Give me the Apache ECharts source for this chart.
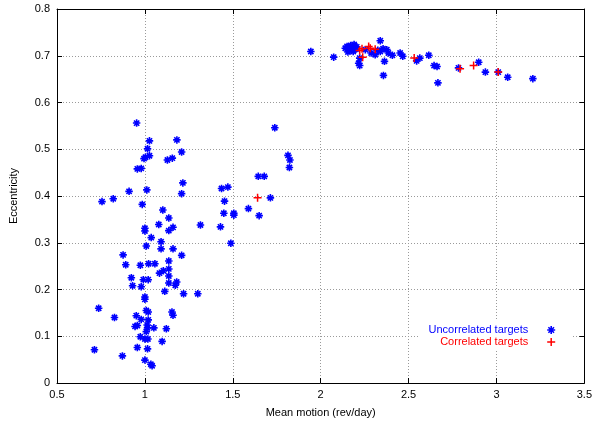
<!DOCTYPE html>
<html><head><meta charset="utf-8">
<script src="https://cdn.jsdelivr.net/npm/echarts@6/dist/echarts.min.js"></script>
<style>html,body{margin:0;padding:0;background:#fff}#c{width:595px;height:423px}</style>
</head><body><div id="c"></div>
<script>
// Uncorrelated targets
const uncorrX = [0.953,1.026,1.182,1.015,1.209,0.995,1.003,1.026,1.128,1.156,0.957,0.979,1.216,0.910,1.011,1.209,0.820,0.756,0.985,1.102,1.136,1.079,1.160,1.136,1.000,1.000,1.036,1.092,1.316,1.436,1.430,1.008,1.092,1.160,0.876,1.209,0.891,0.974,1.021,1.057,1.136,0.923,0.991,1.019,1.083,1.105,1.136,1.136,1.136,1.181,1.173,0.930,0.979,1.113,1.220,1.301,1.000,1.000,0.737,0.827,1.008,1.019,1.154,1.160,0.951,0.979,1.019,1.013,0.944,0.957,1.051,1.015,1.122,1.008,0.974,1.000,1.017,1.098,0.713,0.957,1.015,0.872,1.000,1.034,1.041,1.739,1.814,1.825,1.822,1.645,1.679,1.714,1.472,1.453,1.589,1.449,1.506,1.506,1.650,1.489,
  1.944,2.074,2.140,2.150,2.160,2.170,2.180,2.190,2.200,2.155,2.185,2.205,2.222,2.216,2.222,2.339,2.287,2.339,2.376,2.385,2.408,2.452,2.467,2.363,2.357,2.254,2.310,2.325,2.355,2.546,2.564,2.615,2.645,2.662,2.667,2.784,2.899,2.937,3.010,3.064,3.207];
const uncorrY = [0.556,0.518,0.520,0.501,0.494,0.480,0.483,0.486,0.477,0.481,0.458,0.459,0.428,0.410,0.413,0.405,0.394,0.388,0.382,0.370,0.353,0.339,0.333,0.326,0.331,0.325,0.311,0.302,0.338,0.416,0.334,0.293,0.287,0.287,0.274,0.273,0.253,0.252,0.255,0.255,0.261,0.225,0.221,0.221,0.235,0.240,0.244,0.229,0.214,0.216,0.209,0.208,0.206,0.196,0.191,0.191,0.179,0.184,0.160,0.140,0.155,0.152,0.152,0.145,0.144,0.136,0.135,0.124,0.121,0.123,0.118,0.118,0.116,0.110,0.099,0.094,0.094,0.089,0.071,0.076,0.073,0.058,0.049,0.040,0.037,0.546,0.487,0.477,0.461,0.442,0.442,0.396,0.419,0.389,0.373,0.363,0.363,0.359,0.358,0.299,
  0.709,0.697,0.716,0.720,0.712,0.722,0.717,0.724,0.714,0.708,0.709,0.719,0.695,0.684,0.679,0.732,0.706,0.709,0.713,0.706,0.701,0.706,0.699,0.688,0.658,0.713,0.702,0.712,0.715,0.689,0.695,0.701,0.679,0.677,0.642,0.674,0.686,0.665,0.665,0.654,0.651];
// Correlated targets
const corrX = [1.641,2.222,2.235,2.239,2.273,2.282,2.310,2.532,2.793,2.870,3.010];
const corrY = [0.396,0.711,0.715,0.697,0.720,0.716,0.714,0.695,0.672,0.679,0.665];
const xTicks = [0.5,1,1.5,2,2.5,3,3.5];
const yTicks = [0,0.1,0.2,0.3,0.4,0.5,0.6,0.7,0.8];
const seriesNames = ['Uncorrelated targets','Correlated targets'];

const starPath = 'path://M0,4L8,4M4,0L4,8M1.2,1.2L6.8,6.8M6.8,1.2L1.2,6.8';
const plusPath = 'path://M0,4L8,4M4,0L4,8';
const font = 'Liberation Sans, Arial, Helvetica, sans-serif';
const fmt = v => (Math.abs(v) < 1e-9 ? '0' : String(+v.toFixed(2)));

const chart = echarts.init(document.getElementById('c'), null, {renderer: 'canvas'});
const gridLine = {show: true, lineStyle: {color: '#9a9a9a', type: [1, 2], width: 1}};
const axisCommon = (pos, show) => ({
  position: pos,
  axisLine: {show: true, onZero: false, lineStyle: {color: '#000', width: 1}},
  axisTick: {show: true, inside: true, length: 5, lineStyle: {color: '#000'}},
  axisLabel: {show: show, color: '#000', fontFamily: font, fontSize: 11, formatter: fmt},
});
chart.setOption({
  animation: false,
  backgroundColor: '#fff',
  grid: {left: 54, right: 9, top: 9, bottom: 38, containLabel: false},
  xAxis: [
    Object.assign(axisCommon('bottom', true), {type: 'value', min: xTicks[0], max: xTicks[xTicks.length-1], interval: 0.5,
      splitLine: gridLine, name: 'Mean motion (rev/day)', nameLocation: 'middle', nameGap: 24,
      nameTextStyle: {color: '#000', fontFamily: font, fontSize: 11}, axisLabel: {color: '#000', fontFamily: font, fontSize: 11, formatter: fmt, margin: 6}}),
    Object.assign(axisCommon('top', false), {type: 'value', min: xTicks[0], max: xTicks[xTicks.length-1], interval: 0.5, splitLine: {show: false}})
  ],
  yAxis: [
    Object.assign(axisCommon('left', true), {type: 'value', min: yTicks[0], max: yTicks[yTicks.length-1], interval: 0.1,
      splitLine: gridLine, name: 'Eccentricity', nameLocation: 'middle', nameGap: 38,
      nameTextStyle: {color: '#000', fontFamily: font, fontSize: 11}, axisLabel: {color: '#000', fontFamily: font, fontSize: 11, formatter: fmt, margin: 7}}),
    Object.assign(axisCommon('right', false), {type: 'value', min: yTicks[0], max: yTicks[yTicks.length-1], interval: 0.1, splitLine: {show: false}})
  ],
  legend: {
    orient: 'vertical', right: 22, top: 320, align: 'right',
    backgroundColor: '#fff', padding: [4, 17, 2, 9], itemGap: 0,
    itemWidth: 8, itemHeight: 8,
    data: [
      {name: seriesNames[0], icon: starPath, textStyle: {color: '#0000ff'}, itemStyle: {color: 'rgba(0,0,0,0)', borderColor: '#0000ff', borderWidth: 1.6}},
      {name: seriesNames[1], icon: plusPath, textStyle: {color: '#ff0000'}, itemStyle: {color: 'rgba(0,0,0,0)', borderColor: '#ff0000', borderWidth: 1.5}}
    ],
    textStyle: {fontFamily: font, fontSize: 11, lineHeight: 12, padding: [0, 14, 0, 0]}
  },
  series: [
    {name: seriesNames[0], type: 'scatter', symbol: starPath, symbolSize: 7.5,
      itemStyle: {color: 'rgba(0,0,0,0)', borderColor: '#0000ff', borderWidth: 1.6, opacity: 1},
      data: uncorrX.map((x, i) => [x, uncorrY[i]]), z: 3},
    {name: seriesNames[1], type: 'scatter', symbol: plusPath, symbolSize: 8,
      itemStyle: {color: 'rgba(0,0,0,0)', borderColor: '#ff0000', borderWidth: 1.5, opacity: 1},
      data: corrX.map((x, i) => [x, corrY[i]]), z: 4}
  ]
});
</script></body></html>
